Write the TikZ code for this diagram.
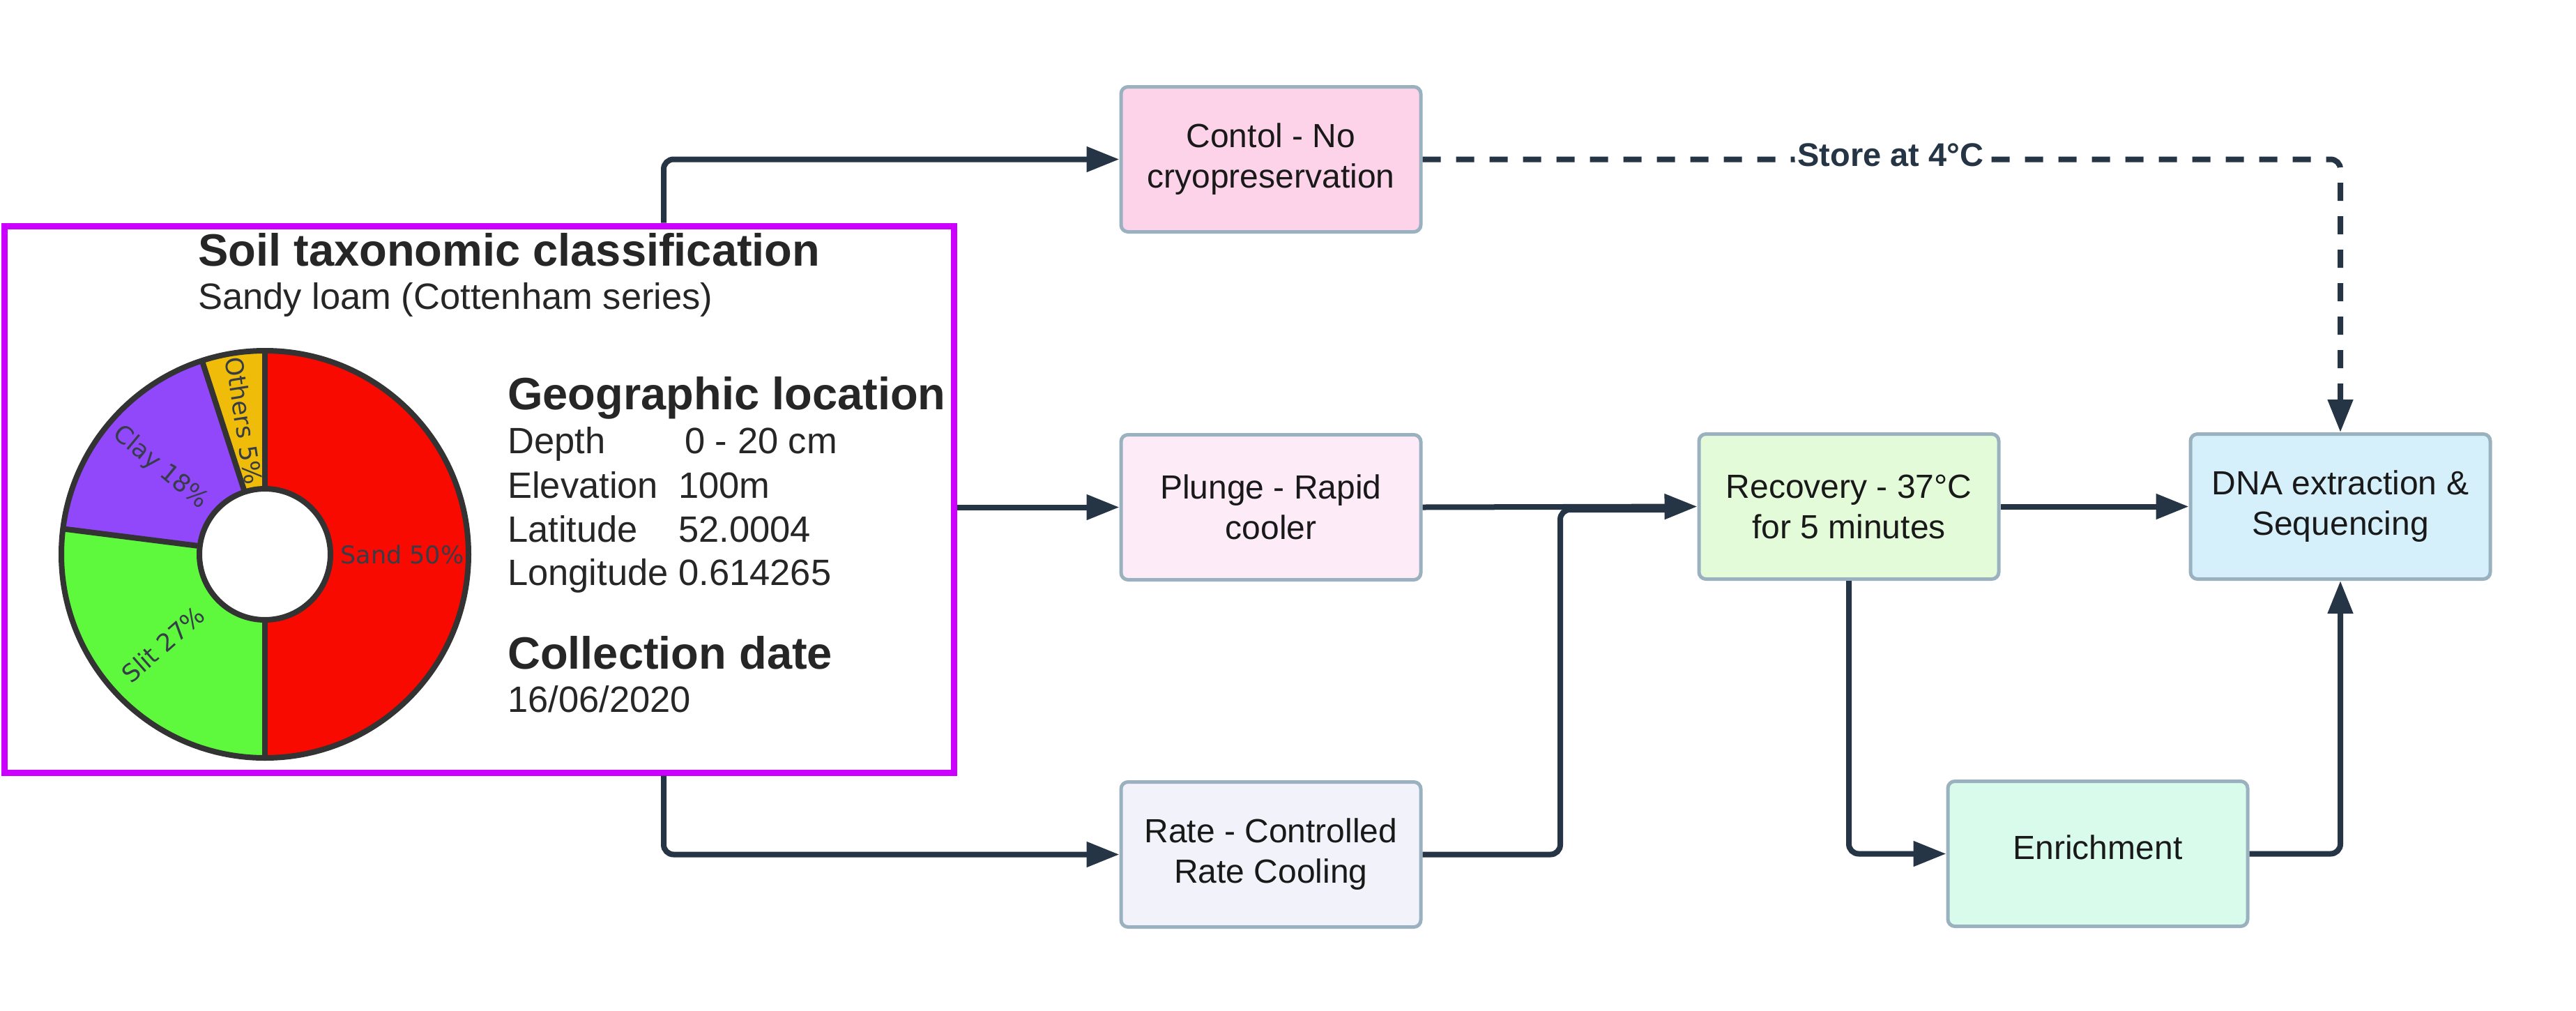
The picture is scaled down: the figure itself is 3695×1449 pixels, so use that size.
\documentclass[tikz,border=0pt]{standalone}
\usepackage{fontspec}
\setmainfont{Liberation Sans}
\newfontfamily\dejavu{DejaVu Sans}
\usetikzlibrary{arrows.meta}
\definecolor{conncol}{HTML}{263545}
\definecolor{boxline}{HTML}{9AB2C0}
\definecolor{magentaline}{HTML}{CC00FF}
\definecolor{txtdark}{HTML}{262626}
\definecolor{pietxt}{HTML}{363C48}
\definecolor{fillcontol}{HTML}{FDD3E9}
\definecolor{fillplunge}{HTML}{FDEBF8}
\definecolor{fillrate}{HTML}{F2F2FA}
\definecolor{fillrec}{HTML}{E4FBDA}
\definecolor{filldna}{HTML}{D5EFFB}
\definecolor{fillenr}{HTML}{D9FBEC}
\definecolor{pred}{HTML}{F80A00}
\definecolor{pgreen}{HTML}{5EF83C}
\definecolor{ppurple}{HTML}{9147FA}
\definecolor{pyellow}{HTML}{F0BC0A}
\definecolor{pieline}{HTML}{333333}
\begin{document}
\begin{tikzpicture}[x=1pt,y=-1pt,
  flowbox/.style={rectangle, rounded corners=10pt, draw=boxline, line width=5pt, minimum width=430pt, minimum height=208pt, align=center, inner sep=0pt, font=\fontsize{48}{58}\selectfont, text=black!90},
  conn/.style={draw=conncol, line width=8pt, rounded corners=14pt, -{Triangle[length=47pt,width=35pt]}},
  connplain/.style={draw=conncol, line width=8pt, rounded corners=14pt},
  plaintext/.style={anchor=base west, inner sep=0pt, text=txtdark},
  bigbold/.style={plaintext, font=\fontsize{65}{78}\selectfont\bfseries},
  regtext/.style={plaintext, font=\fontsize{52.5}{63}\selectfont},
  pielabel/.style={inner sep=0pt, font=\dejavu\fontsize{35}{42}\selectfont, text=pietxt}
]
\useasboundingbox (0,0) rectangle (3695,1449);
\fill[white] (0,0) rectangle (3695,1449);

% soil panel
\node[draw=magentaline, line width=9pt, minimum width=1362pt, minimum height=784pt, inner sep=0pt] (soil) at (687,716) {};

% donut chart
\begin{scope}[shift={(380,795)}, yscale=-1]
  \def\pieRo{292}
  \def\pieRi{94}
  \fill[pred] (90:\pieRo) arc[start angle=90,end angle=-90,radius=\pieRo] -- (-90:\pieRi) arc[start angle=-90,end angle=90,radius=\pieRi] -- cycle;
  \fill[pgreen] (-90:\pieRo) arc[start angle=-90,end angle=-187.2,radius=\pieRo] -- (-187.2:\pieRi) arc[start angle=-187.2,end angle=-90,radius=\pieRi] -- cycle;
  \fill[ppurple] (-187.2:\pieRo) arc[start angle=-187.2,end angle=-252,radius=\pieRo] -- (-252:\pieRi) arc[start angle=-252,end angle=-187.2,radius=\pieRi] -- cycle;
  \fill[pyellow] (-252:\pieRo) arc[start angle=-252,end angle=-270,radius=\pieRo] -- (-270:\pieRi) arc[start angle=-270,end angle=-252,radius=\pieRi] -- cycle;
  \draw[pieline, line width=8pt] (0,0) circle[radius=\pieRo];
  \draw[pieline, line width=8pt] (0,0) circle[radius=\pieRi];
  \draw[pieline, line width=8pt] (90:\pieRi) -- (90:\pieRo);
  \draw[pieline, line width=8pt] (-90:\pieRi) -- (-90:\pieRo);
  \draw[pieline, line width=8pt] (-187.2:\pieRi) -- (-187.2:\pieRo);
  \draw[pieline, line width=8pt] (-252:\pieRi) -- (-252:\pieRo);
\end{scope}
\node[pielabel] (lsand) at (577,795) {Sand 50\%};
\node[pielabel, rotate=41.4] (lslit) at (234,924) {Slit 27\%};
\node[pielabel, rotate=-39.6] (lclay) at (230,671) {Clay 18\%};
\node[pielabel, rotate=-81] (loth) at (350,603) {Others 5\%};

% soil texts
\node[bigbold] (ttl) at (284,381) {Soil taxonomic classification};
\node[regtext] (sub) at (284,443) {Sandy loam (Cottenham series)};
\node[bigbold] (geo) at (728,587) {Geographic location};
\node[regtext] (dep) at (728,650) {Depth};
\node[regtext] (depv) at (982,650) {0 - 20 cm};
\node[regtext] (ele) at (728,714) {Elevation};
\node[regtext] (elev) at (973,714) {100m};
\node[regtext] (lat) at (728,777) {Latitude};
\node[regtext] (latv) at (973,777) {52.0004};
\node[regtext] (lon) at (728,839) {Longitude 0.614265};
\node[bigbold] (col) at (728,959) {Collection date};
\node[regtext] (cold) at (728,1021) {16/06/2020};

% flow boxes
\node[flowbox, fill=fillcontol] (contol) at (1823,228.5) {Contol - No\\cryopreservation};
\node[flowbox, fill=fillplunge] (plunge) at (1823,727.5) {Plunge - Rapid\\cooler};
\node[flowbox, fill=fillrate] (rate) at (1823,1225.5) {Rate - Controlled\\Rate Cooling};
\node[flowbox, fill=fillrec] (recovery) at (2652,726.5) {Recovery - 37°C\\for 5 minutes};
\node[flowbox, fill=filldna] (dna) at (3357,726.5) {DNA extraction \&\\Sequencing};
\node[flowbox, fill=fillenr, text depth=18pt] (enrich) at (3009,1224.5) {Enrichment};

% connectors
\coordinate (splitx) at (952,0);
\coordinate (mergex) at (2238,731);
\coordinate (mergeend) at (2390,731);
\draw[conn] (soil.north -| splitx) |- (contol.west);
\draw[conn] (soil.east |- plunge.west) -- (plunge.west);
\draw[conn] (soil.south -| splitx) |- (rate.west);
\draw[connplain] (rate.east) -| (mergex) -- (mergeend);
\draw[conn] (plunge.east) -- (recovery.west);
\draw[conn] (recovery.east) -- (dna.west);
\draw[conn, dash pattern=on 26pt off 22pt] (contol.east) -| (dna.north)
  node[pos=0.255, yshift=6pt, fill=white, inner sep=4pt, font=\fontsize{47}{56}\selectfont\bfseries, text=conncol] (store) {Store at 4°C};
\draw[conn] (recovery.south) |- (enrich.west);
\draw[conn] (enrich.east) -| (dna.south);
\end{tikzpicture}
\end{document}
